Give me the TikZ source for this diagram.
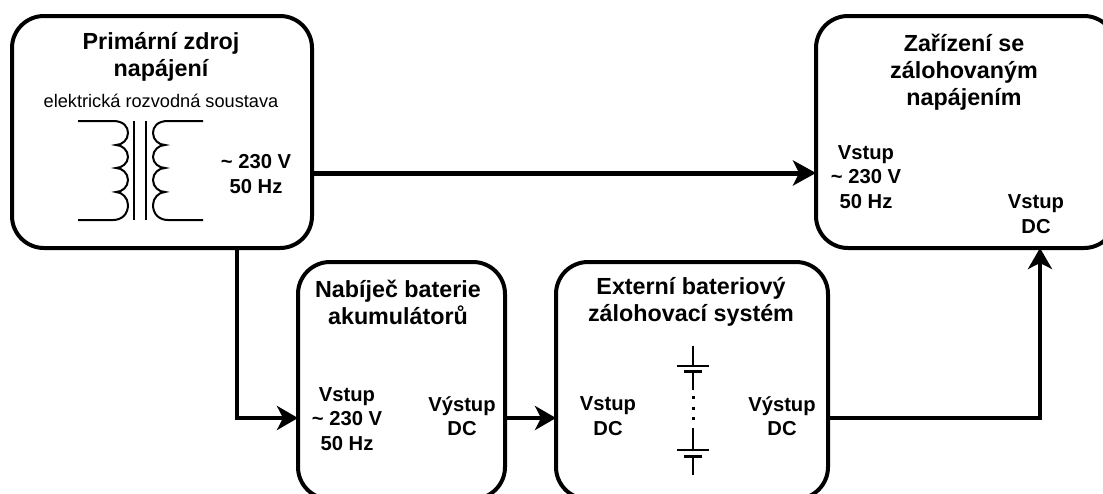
\documentclass[tikz,border=0pt]{standalone}
\usepackage{fontspec}
\setmainfont{Liberation Sans}
\usetikzlibrary{arrows.meta}
\tikzset{
  x=1pt,y=-1pt,
  boxnode/.style={draw=black,line width=4pt,rounded corners=32pt,fill=none,inner sep=0pt,outer sep=0pt,anchor=north west},
  titletext/.style={font=\fontsize{23.3}{27}\selectfont\bfseries,align=center,inner sep=0pt,text=black},
  labeltext/.style={font=\fontsize{20.2}{24.5}\selectfont\bfseries,align=center,inner sep=0pt,text=black},
  subtext/.style={font=\fontsize{18.2}{20}\selectfont,align=center,inner sep=0pt,text=black},
  flow/.style={line width=4pt,-{Stealth[length=21pt,width=24pt,inset=6pt]},line join=miter},
  mainflow/.style={line width=5pt,-{Stealth[length=23pt,width=25pt,inset=6pt]}},
  symbol/.style={line width=1.6pt,black},
}
\begin{document}
\begin{tikzpicture}
\useasboundingbox (0,0) rectangle (1103,493);
\clip (0,0) rectangle (1103,493);
\fill[white] (0,0) rectangle (1103,493);
% boxes
\node[boxnode,minimum width=300pt,minimum height=232pt] (zdroj) at (12,16) {};
\node[boxnode,minimum width=300pt,minimum height=232pt] (zarizeni) at (816,16) {};
\node[boxnode,minimum width=207pt,minimum height=237pt] (nabijec) at (298,262) {};
\node[boxnode,minimum width=272pt,minimum height=237pt] (externi) at (556,262) {};
% connector helper points
\coordinate (zdrojout) at (312,173);
\coordinate (zarin) at (816,173);
\coordinate (zdrojdown) at (237,248);
\coordinate (nabin) at (298,418);
\coordinate (nabout) at (505,418);
\coordinate (extin) at (556,418);
\coordinate (extout) at (828,418);
\coordinate (zarup) at (1040,248);
% connectors
\draw[mainflow] (zdrojout) -- (zarin);
\draw[flow] (zdrojdown) |- (nabin);
\draw[flow] (nabout) -- (extin);
\draw[flow] (extout) -| (zarup);
% titles
\node[titletext] (t1) at (161,57) {Primární zdroj\\napájení};
\node[subtext] (s1) at (161,101) {elektrická rozvodná soustava};
\node[labeltext] (l1) at (256,174) {\textasciitilde\ 230 V\\50 Hz};
\node[titletext] (t2) at (398,302) {Nabíječ baterie\\akumulátorů};
\node[labeltext] (l2) at (347,419) {Vstup\\\textasciitilde\ 230 V\\50 Hz};
\node[labeltext] (l3) at (462,416) {Výstup\\DC};
\node[titletext] (t3) at (691,302) {Externí bateriový\\zálohovací systém};
\node[labeltext] (l4) at (608,416) {Vstup\\DC};
\node[labeltext] (l5) at (782,416) {Výstup\\DC};
\node[titletext] (t4) at (964,72) {Zařízení se\\zálohovaným\\napájením};
\node[labeltext] (l6) at (866,177) {Vstup\\\textasciitilde\ 230 V\\50 Hz};
\node[labeltext] (l7) at (1036,214) {Vstup\\DC};
% transformer
\draw[symbol,line width=2pt] (78,121) -- (113,121)
  .. controls (124,121) and (128,127) .. (128,133)
  .. controls (128,140) and (122,145) .. (116,145)
  .. controls (122,145) and (128,150) .. (128,157)
  .. controls (128,163) and (122,168) .. (116,168)
  .. controls (122,168) and (128,173) .. (128,180)
  .. controls (128,187) and (122,192) .. (116,192)
  .. controls (122,192) and (128,198) .. (128,205)
  .. controls (128,214) and (122,220) .. (113,220)
  -- (78,220);
\draw[symbol,line width=2pt] (203,121) -- (168,121)
  .. controls (157,121) and (153,127) .. (153,133)
  .. controls (153,140) and (159,145) .. (165,145)
  .. controls (159,145) and (153,150) .. (153,157)
  .. controls (153,163) and (159,168) .. (165,168)
  .. controls (159,168) and (153,173) .. (153,180)
  .. controls (153,187) and (159,192) .. (165,192)
  .. controls (159,192) and (153,198) .. (153,205)
  .. controls (153,214) and (159,220) .. (168,220)
  -- (203,220);
\draw[symbol,line width=2pt] (134,121) -- (134,220);
\draw[symbol,line width=2pt] (146,121) -- (146,220);
% battery
\draw[symbol] (693,346) -- (693,366);
\draw[symbol] (677,366) -- (709,366);
\draw[line width=3pt] (684,371.5) -- (702,371.5);
\draw[symbol] (693,372) -- (693,390);
\draw[line width=2.4pt,dash pattern=on 3pt off 7.5pt] (693.5,396) -- (693.5,424);
\draw[symbol] (693,428) -- (693,450);
\draw[symbol] (677,450) -- (709,450);
\draw[line width=3pt] (684,456) -- (702,456);
\draw[symbol] (693,456) -- (693,475);
\end{tikzpicture}
\end{document}
